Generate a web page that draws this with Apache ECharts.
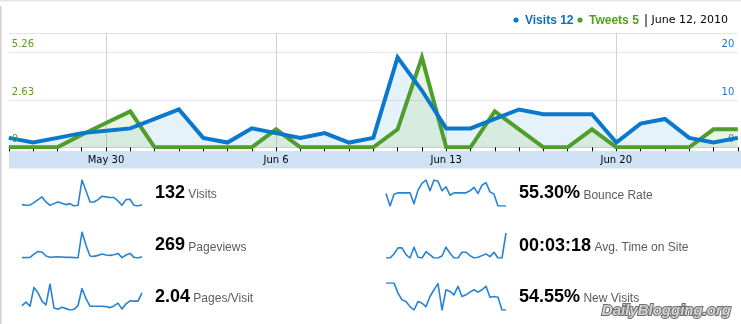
<!DOCTYPE html>
<html>
<head>
<meta charset="utf-8">
<script src="https://cdn.jsdelivr.net/npm/echarts@6/dist/echarts.min.js"></script>
<style>
  html, body { margin: 0; padding: 0; background: #fff; }
  #chart { width: 741px; height: 324px; }
</style>
</head>
<body>
<div id="chart"></div>
<script>
// Daily series, May 26 – Jun 25 2010
const days = [
  'May 26', 'May 27', 'May 28', 'May 29', 'May 30', 'May 31',
  'Jun 1', 'Jun 2', 'Jun 3', 'Jun 4', 'Jun 5', 'Jun 6', 'Jun 7', 'Jun 8', 'Jun 9',
  'Jun 10', 'Jun 11', 'Jun 12', 'Jun 13', 'Jun 14', 'Jun 15', 'Jun 16', 'Jun 17',
  'Jun 18', 'Jun 19', 'Jun 20', 'Jun 21', 'Jun 22', 'Jun 23', 'Jun 24', 'Jun 25'
];
const visits = [2, 1, 2, 3, 3.5, 4, 6, 8, 2, 1, 4, 3, 2, 3, 1, 2, 19, 12, 4, 4, 6, 8, 7, 7, 7, 1, 5, 6, 2, 1, 2];
const tweets = [0, 0, 0, 0.7, 1.35, 2, 0, 0, 0, 0, 0, 1, 0, 0, 0, 0, 1, 5, 0, 0, 2, 1, 0, 0, 1, 0, 0, 0, 0, 1, 1];

// Axis ticks and labels
const tweetTicks = [0, 2.63, 5.26];
const visitTicks = [0, 10, 20];
const dateLabels = ['May 30', 'Jun 6', 'Jun 13', 'Jun 20'];
const selectedDay = 17;
const selectedDate = 'June 12, 2010';

// Sparkline series for the summary metrics
const sparkVisits = [5, 3, 4, 11, 20, 28, 13, 3, 8, 13, 9, 5, 8, 1, 3, 78, 46, 13, 13, 20, 30, 28, 26, 26, 16, 3, 20, 21, 3, 1, 5];
const sparkPageviews = [3, 3, 4, 14, 22, 20, 8, 4, 5, 6, 5, 4, 4, 3, 2, 81, 41, 8, 7, 10, 14, 11, 10, 12, 16, 3, 11, 16, 4, 2, 6];
const sparkPagesPerVisit = [15, 25, 13, 68, 52, 28, 17, 78, 8, 4, 10, 6, 2, 4, 15, 65, 35, 13, 13, 13, 13, 12, 9, 14, 22, 5, 20, 29, 28, 28, 52];
const sparkBounce = [40, 3, 38, 42, 42, 42, 42, 10, 50, 70, 80, 48, 80, 76, 48, 60, 35, 42, 42, 42, 42, 48, 58, 40, 65, 72, 45, 38, 3, 3, 3];
const sparkTime = [3, 3, 15, 33, 33, 13, 3, 35, 5, 3, 22, 12, 3, 3, 9, 35, 17, 3, 3, 20, 20, 10, 3, 5, 10, 15, 7, 20, 3, 3, 77];
const sparkNewVisits = [82, 82, 82, 52, 32, 27, 12, 2, 27, 22, 12, 42, 62, 80, 2, 62, 57, 47, 72, 42, 47, 55, 62, 55, 62, 72, 40, 42, 40, 2, 2];

const metricValues = ['132', '269', '2.04', '55.30%', '00:03:18', '54.55%'];
const metricNames = ['Visits', 'Pageviews', 'Pages/Visit', 'Bounce Rate', 'Avg. Time on Site', 'New Visits'];

const chart = echarts.init(document.getElementById('chart'), null, { renderer: 'canvas' });

// Main plot geometry
const plotTop = 33;
const plotHeight = 114.3;
const stepPx = 47.3;
const ratio = plotHeight / stepPx;
const tweetMax = tweetTicks[1] * ratio;
const visitMax = visitTicks[1] * ratio;

const isDateLabel = (i, v) => dateLabels.indexOf(days[i]) >= 0;
const tickLabel = (list) => (v) => {
  const t = list.find(x => Math.abs(x - v) < 1e-6);
  return t === undefined ? '' : String(t);
};

// Sparkline layout
const sparkData = [sparkVisits, sparkPageviews, sparkPagesPerVisit, sparkBounce, sparkTime, sparkNewVisits];
const sparkBoxes = [
  { left: 22, top: 180, height: 26 },
  { left: 22, top: 232, height: 26 },
  { left: 22, top: 284, height: 26 },
  { left: 386, top: 180, height: 26 },
  { left: 386, top: 233, height: 25 },
  { left: 386, top: 283, height: 27 }
];
const metricPos = [
  [155, 193], [155, 245.5], [155, 297],
  [519, 193.5], [519, 246], [519, 297]
];

const grids = [{ left: 8.8, right: 3.2, top: plotTop, height: plotHeight, containLabel: false }];
const xAxes = [
  {
    type: 'category', gridIndex: 0, data: days, boundaryGap: false,
    axisLine: { show: false },
    axisTick: { show: true, interval: 0, length: 4, lineStyle: { color: '#000', width: 1 } },
    axisLabel: { interval: isDateLabel, margin: 8, fontFamily: 'DejaVu Sans', fontSize: 10, color: '#000' },
    splitLine: { show: true, interval: isDateLabel, lineStyle: { color: '#d0d0d0', width: 1 } }
  },
  {
    type: 'category', gridIndex: 0, data: days, boundaryGap: false, position: 'top',
    axisLine: { show: true, lineStyle: { color: '#cccccc', width: 1 } },
    axisTick: { show: false }, axisLabel: { show: false }, splitLine: { show: false }
  }
];
const yAxes = [
  {
    type: 'value', gridIndex: 0, position: 'left', min: 0, max: tweetMax, interval: tweetTicks[1], z: 10,
    axisLine: { show: false }, axisTick: { show: false }, splitLine: { show: false },
    axisLabel: {
      inside: true, margin: 3, showMaxLabel: false, verticalAlign: 'bottom', padding: [0, 0, 3, 0],
      fontFamily: 'DejaVu Sans', fontSize: 10, color: '#5a9e1c', formatter: tickLabel(tweetTicks)
    }
  },
  {
    type: 'value', gridIndex: 0, position: 'right', min: 0, max: visitMax, interval: visitTicks[1],
    axisLine: { show: false }, axisTick: { show: false },
    splitLine: { show: true, lineStyle: { color: '#e4e4ef', width: 1 } },
    axisLabel: {
      inside: true, margin: 3.5, showMaxLabel: false, verticalAlign: 'bottom', padding: [0, 0, 3, 0],
      fontFamily: 'DejaVu Sans', fontSize: 10, color: '#1a78c9', formatter: tickLabel(visitTicks)
    }
  }
];
const series = [
  {
    name: 'Visits area', type: 'line', data: visits, xAxisIndex: 0, yAxisIndex: 1,
    symbol: 'none', silent: true, z: 1,
    lineStyle: { width: 0, opacity: 0 },
    areaStyle: { color: 'rgba(0,119,204,0.14)' }
  },
  {
    name: 'Tweets', type: 'line', data: tweets, xAxisIndex: 0, yAxisIndex: 0,
    symbol: 'none', z: 2,
    lineStyle: { color: '#4f9e2c', width: 4, join: 'miter', miterLimit: 20, cap: 'butt' },
    areaStyle: { color: 'rgba(162,208,128,0.32)' }
  },
  {
    name: 'Visits', type: 'line', data: visits, xAxisIndex: 0, yAxisIndex: 1,
    symbol: 'none', z: 3,
    lineStyle: { color: '#0a78cc', width: 4, join: 'miter', miterLimit: 20, cap: 'butt' }
  }
];

sparkData.forEach((data, k) => {
  const g = k + 1;
  const box = sparkBoxes[k];
  grids.push({ left: box.left, top: box.top, width: 120, height: box.height });
  xAxes.push({ type: 'category', gridIndex: g, data: data.map((_, i) => i), boundaryGap: false, show: false });
  yAxes.push({ type: 'value', gridIndex: g, min: 'dataMin', max: 'dataMax', show: false, splitLine: { show: false } });
  series.push({
    type: 'line', data: data, xAxisIndex: xAxes.length - 1, yAxisIndex: yAxes.length - 1,
    symbol: 'none', silent: true,
    lineStyle: { color: '#2683d6', width: 1.6, join: 'round' }
  });
});

const graphics = [
  { type: 'rect', shape: { x: 0, y: 0, width: 741, height: 1.5 }, style: { fill: '#e6e6e6' }, z: -1, silent: true },
  { type: 'rect', shape: { x: 0, y: 6, width: 1.5, height: 318 }, style: { fill: '#d2d2d2' }, z: -1, silent: true },
  { type: 'rect', shape: { x: 9, y: 151, width: 732, height: 17.5 }, style: { fill: '#cfe1f5' }, z: -1, silent: true },
  // header legend
  { type: 'circle', shape: { cx: 516, cy: 20, r: 2.6 }, style: { fill: '#0a78cc' }, silent: true },
  { type: 'text', x: 525, y: 20.5, silent: true,
    style: { text: 'Visits ' + visits[selectedDay], fill: '#0a70c4', font: 'bold 12px "Liberation Sans"', verticalAlign: 'middle' } },
  { type: 'circle', shape: { cx: 580, cy: 20, r: 2.6 }, style: { fill: '#4f9e2c' }, silent: true },
  { type: 'text', x: 589, y: 20.5, silent: true,
    style: { text: 'Tweets ' + tweets[selectedDay], fill: '#52a01c', font: 'bold 12px "Liberation Sans"', verticalAlign: 'middle' } },
  { type: 'rect', shape: { x: 645.5, y: 14, width: 1, height: 13 }, style: { fill: '#000' }, silent: true },
  { type: 'text', x: 651.5, y: 20.5, silent: true,
    style: { text: selectedDate, fill: '#000', font: '11px "DejaVu Sans"', verticalAlign: 'middle' } },
  // watermark
  { type: 'text', x: 731, y: 311, silent: true,
    style: {
      text: 'DailyBlogging.org', fill: '#d2d2d2', stroke: '#6e6e6e', lineWidth: 2, strokeFirst: true,
      font: 'italic bold 15px "Liberation Sans"', align: 'right', verticalAlign: 'middle',
      shadowColor: 'rgba(0,0,0,0.35)', shadowOffsetX: 1, shadowOffsetY: 1, shadowBlur: 1
    } }
];

metricValues.forEach((v, k) => {
  graphics.push({
    type: 'text', x: metricPos[k][0], y: metricPos[k][1], silent: true,
    style: {
      text: '{n|' + v + '} {l|' + metricNames[k] + '}',
      font: '12px "Liberation Sans"', fill: '#000', verticalAlign: 'middle',
      rich: {
        n: { fontSize: 18, fontWeight: 'bold', fontFamily: 'Liberation Sans', fill: '#000', lineHeight: 18, verticalAlign: 'bottom' },
        l: { fontSize: 12, fontFamily: 'Liberation Sans', fill: '#5c5c5c', lineHeight: 14, verticalAlign: 'bottom', padding: [0, 0, 1, 0] }
      }
    }
  });
});

chart.setOption({
  backgroundColor: '#ffffff',
  animation: false,
  grid: grids,
  xAxis: xAxes,
  yAxis: yAxes,
  series: series,
  graphic: graphics
});
</script>
</body>
</html>
